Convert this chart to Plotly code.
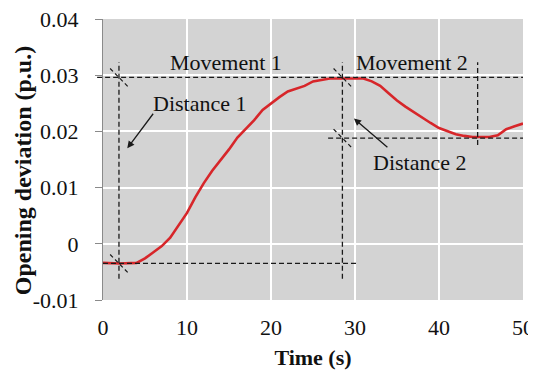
import plotly.graph_objects as go

# ---- data ----
time_s = [0, 2, 4, 5, 6, 7, 8, 9, 10, 11, 12, 13, 14, 15, 16, 17, 18, 19, 20,
          21, 22, 23, 24, 25, 26, 27, 28, 29, 30, 31, 32, 33, 34, 35, 36, 37,
          38, 39, 40, 41, 42, 43, 44, 45, 46, 47, 48, 49, 50]
deviation = [-0.0034, -0.0035, -0.0034, -0.0026, -0.0015, -0.0004, 0.0011,
             0.0032, 0.0055, 0.0083, 0.0108, 0.0130, 0.0148, 0.0168, 0.0189,
             0.0204, 0.0220, 0.0238, 0.0250, 0.0261, 0.0271, 0.0276, 0.0281,
             0.0289, 0.0292, 0.0294, 0.0294, 0.0294, 0.0294, 0.0294, 0.0289,
             0.0281, 0.0268, 0.0255, 0.0244, 0.0234, 0.0225, 0.0215, 0.0206,
             0.0200, 0.0195, 0.0192, 0.0190, 0.0190, 0.0190, 0.0193, 0.0204,
             0.0209, 0.0214]

y_tickvals = [-0.01, 0, 0.01, 0.02, 0.03, 0.04]
y_ticktext = ["-0.01", "0", "0.01", "0.02", "0.03", "0.04"]
x_tickvals = [0, 10, 20, 30, 40, 50]

# reference levels / instants marked with dashed guide lines
t_start, t_peak, t_valley = 1.9, 28.5, 44.6
y_init, y_peak, y_valley = -0.0035, 0.0296, 0.0188
guide_top, guide_bottom = 0.0323, -0.0062

labels = ["Movement 1", "Movement 2", "Distance 1", "Distance 2"]
y_title = "<b>Opening deviation (p.u.)</b>"
x_title = "<b>Time (s)</b>"

FONT = "Liberation Serif"
DASH = "5px,3px"
BLACK = "#1a1a1a"

fig = go.Figure()
fig.add_trace(go.Scatter(x=time_s, y=deviation, mode="lines",
                         line=dict(color="#d7262a", width=2.6),
                         showlegend=False, hoverinfo="skip"))

guide = dict(color=BLACK, width=1.3, dash=DASH)
shapes = [
    # peak level
    dict(type="line", xref="paper", yref="y", x0=-0.014, x1=1.0,
         y0=y_peak, y1=y_peak, line=guide),
    # initial level
    dict(type="line", xref="x", yref="y", x0=0, x1=30.2,
         y0=y_init, y1=y_init, line=guide),
    # valley level
    dict(type="line", xref="x", yref="y", x0=26.8, x1=50,
         y0=y_valley, y1=y_valley, line=guide),
    # verticals
    dict(type="line", xref="x", yref="y", x0=t_start, x1=t_start,
         y0=guide_bottom, y1=guide_top, line=guide),
    dict(type="line", xref="x", yref="y", x0=t_peak, x1=t_peak,
         y0=guide_bottom, y1=guide_top, line=guide),
    dict(type="line", xref="x", yref="y", x0=t_valley, x1=t_valley,
         y0=0.0176, y1=guide_top, line=guide),
]
# oblique dimension marks at intersections
for (cx, cy) in [(t_start, y_peak), (t_start, y_init),
                 (t_peak, y_peak), (t_peak, y_valley)]:
    shapes.append(dict(type="line", xref="x", yref="y",
                       x0=cx - 1.05, x1=cx + 1.05,
                       y0=cy + 0.0016, y1=cy - 0.0016,
                       line=dict(color=BLACK, width=1.2, dash="4px,3px")))

txt = dict(family=FONT, size=22, color="#111111")
annotations = [
    dict(x=14.64, y=0.0323, text=labels[0], showarrow=False, font=txt,
         xanchor="center", yanchor="middle"),
    dict(x=36.8, y=0.0323, text=labels[1], showarrow=False, font=txt,
         xanchor="center", yanchor="middle"),
    dict(x=11.5, y=0.0250, text=labels[2], showarrow=False, font=txt,
         xanchor="center", yanchor="middle"),
    dict(x=37.7, y=0.01454, text=labels[3], showarrow=False, font=txt,
         xanchor="center", yanchor="middle"),
    dict(x=2.89, y=0.0170, ax=27, ay=-36, text="", showarrow=True,
         arrowhead=2, arrowsize=1.1, arrowwidth=1.3, arrowcolor=BLACK),
    dict(x=29.87, y=0.0223, ax=35, ay=30, text="", showarrow=True,
         arrowhead=2, arrowsize=1.1, arrowwidth=1.3, arrowcolor=BLACK),
    # y-axis title placed as a rotated annotation
    dict(xref="paper", yref="paper", x=-0.19, y=0.459, text=y_title,
         textangle=-90, showarrow=False, xanchor="center", yanchor="middle",
         font=dict(family=FONT, size=24, color="#111111")),
]

# page body has an 8px margin, so the figure is sized/offset to compensate
fig.update_layout(
    width=528, height=362,
    margin=dict(l=95, r=13, t=11, b=70),
    paper_bgcolor="white", plot_bgcolor="#d3d3d3",
    font=dict(family=FONT, size=22, color="#111111"),
    shapes=shapes, annotations=annotations,
    xaxis=dict(range=[0, 50], tickvals=x_tickvals, showgrid=True,
               gridcolor="white", gridwidth=1.6, zeroline=False,
               showline=False, ticks="", ticklabelstandoff=12,
               automargin=False, ticklabeloverflow="allow",
               tickfont=dict(family=FONT, size=22),
               title=dict(text=x_title,
                          font=dict(family=FONT, size=22), standoff=10)),
    yaxis=dict(range=[-0.01, 0.04], tickvals=y_tickvals, ticktext=y_ticktext,
               showgrid=True, gridcolor="white", gridwidth=1.6,
               zeroline=False, showline=True, linecolor="#8a8a8a",
               linewidth=1.2, ticks="outside", ticklen=7,
               tickcolor="#8a8a8a", tickwidth=1.2, ticklabelstandoff=12,
               automargin=False, ticklabeloverflow="allow",
               tickfont=dict(family=FONT, size=22)),
)

fig.write_html("out.html")
